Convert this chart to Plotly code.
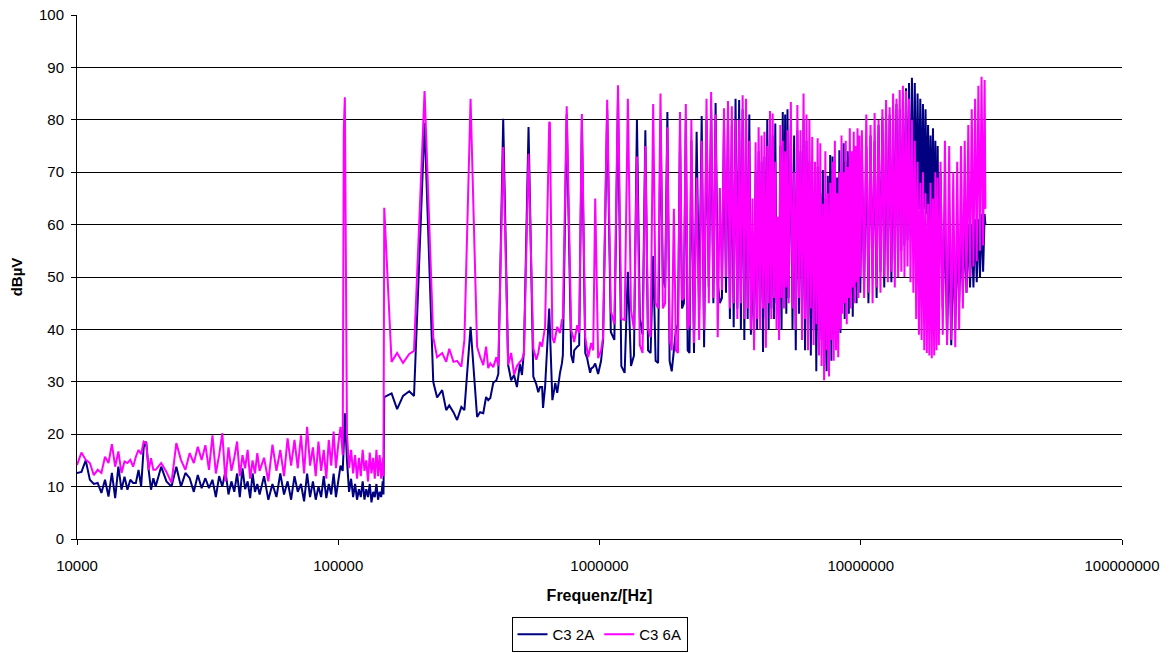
import plotly.graph_objects as go

# ---------------- data (frequencies in kHz, levels in dBµV) ----------------
# 10 kHz .. 150 kHz (noise floor + 106 kHz spike)
low_khz = [
    10, 10.4, 10.8, 11.2, 11.6, 12, 12.4, 12.8, 13.2, 13.6,
    14, 14.4, 14.8, 15.2, 15.6, 16, 16.4, 16.8, 17.2, 17.6,
    18, 18.4, 18.8, 19.2, 19.6,
    20, 21, 22, 23, 24, 25, 26, 27, 28, 29,
    30, 31, 32, 33, 34, 35, 36, 37, 38, 39,
    40, 41, 42, 43, 44, 45, 46, 47, 48, 49, 50,
    52, 54, 56, 58, 60, 62, 64, 66, 68, 70,
    72, 74, 76, 78, 80, 82, 84, 86, 88, 90,
    92, 94, 96, 98, 100, 102, 104,
    105, 106,
    108, 110, 112, 114, 116, 118, 120, 122, 124, 126,
    128, 130, 132, 134, 136, 138, 140, 142, 144, 146, 148,
    149,
]
low_6a = [
    14.1, 16.5, 15.1, 14.5, 12.2, 13.2, 12.6, 15.7, 14.5, 18.1,
    13.8, 16.7, 12.6, 14.8, 14.5, 15.1, 13.8, 15.7, 17.0, 16.2,
    18.6, 18.3, 13.2, 15.4, 13.2,
    13.2, 14.5, 12.8, 10.7, 18.3, 15.1, 13.2, 16.4, 14.5, 17.6,
    15.1, 17.9, 13.2, 19.8, 12.5, 16.0, 20.2, 11.0, 17.5, 13.0,
    15.5, 18.6, 12.0, 16.0, 13.5, 17.0, 11.5, 15.0, 12.5, 16.4, 13.0,
    15.5, 11.0, 18.0, 13.0, 17.0, 12.0, 19.2, 14.0, 18.9, 13.5,
    19.8, 12.5, 21.4, 14.0, 17.5, 12.0, 18.6, 13.0, 17.0, 11.5,
    18.9, 14.0, 20.5, 13.5, 18.0, 21.4, 16.0,
    78.0, 84.3,
    20.0, 13.5, 17.0, 12.5, 16.0, 11.5, 15.5, 12.0, 17.0, 13.0,
    15.0, 11.0, 16.5, 12.5, 15.5, 11.5, 17.0, 12.0, 16.0, 11.5, 15.5,
    12.0,
]
low_2a = [
    12.6, 12.8, 15.0, 11.3, 10.5, 10.7, 8.8, 11.3, 8.1, 12.6,
    7.8, 13.8, 9.4, 11.9, 9.4, 11.3, 10.7, 10.7, 13.2, 10.0,
    17.5, 18.6, 13.2, 9.4, 11.6,
    10.0, 13.8, 11.0, 10.0, 13.8, 10.0, 12.6, 11.6, 9.0, 12.2,
    9.7, 11.6, 9.7, 11.3, 8.0, 12.0, 10.0, 13.0, 8.5, 11.0,
    9.0, 12.5, 8.0, 13.5, 9.5, 11.0, 7.8, 12.5, 9.0, 10.5, 8.5,
    12.0, 7.5, 10.5, 8.0, 12.5, 8.5, 11.0, 7.5, 12.0, 9.0,
    10.5, 7.2, 12.5, 8.0, 11.0, 7.5, 10.0, 8.0, 12.0, 7.8,
    10.5, 8.5, 12.5, 8.0, 11.0, 14.0, 13.0,
    18.0, 24.0,
    15.0, 9.0, 11.5, 8.0, 10.5, 7.5, 9.5, 8.0, 11.0, 7.5,
    9.5, 8.0, 10.5, 7.0, 9.0, 8.0, 10.5, 7.5, 9.0, 8.0, 11.0,
    8.5,
]

# 150 kHz .. 5.3 MHz (resolved harmonics of ~107 kHz)
harm_khz = [
    150, 160, 168, 177, 187, 195, 214, 231, 239, 250,
    259, 266, 276, 285, 296, 304, 321, 340, 349, 359,
    368, 375, 382, 392, 403, 410, 428, 447, 459, 471,
    483, 496, 505, 514, 535, 558, 573, 583, 592, 603,
    608, 619, 642, 646, 660, 671, 677, 689, 706, 718,
    724, 749, 779, 793, 800, 822, 836, 856, 882, 897,
    905, 921, 929, 946, 963, 988, 1014, 1032, 1070, 1105,
    1140, 1177, 1212, 1248, 1284, 1320, 1355, 1391, 1427, 1462,
    1498, 1534, 1569, 1605, 1640, 1676, 1712, 1748, 1783, 1819,
    1855, 1890, 1926, 1962, 1997, 2033, 2069, 2104, 2140, 2175,
    2211, 2247, 2300, 2354, 2407, 2461, 2514, 2568, 2621, 2675,
    2728, 2782, 2835, 2889, 2942, 2996, 3049, 3103, 3156, 3210,
    3263, 3317, 3370, 3424, 3477, 3531, 3584, 3638, 3691, 3745,
    3798, 3852, 3905, 3959, 4012, 4066, 4119, 4173, 4226, 4280,
    4333, 4387, 4440, 4494, 4547, 4601, 4654, 4708, 4761, 4815,
    4868, 4922, 4975, 5029, 5082, 5136, 5189, 5243, 5296,
]
harm_6a = [
    63.2, 33.8, 35.5, 33.6, 35.3, 35.9, 85.5, 38.5, 34.7, 35.5,
    33.8, 36.3, 33.8, 34.0, 32.9, 38.0, 84.0, 36.7, 34.8, 33.2,
    36.7, 32.6, 33.5, 32.8, 34.7, 33.0, 74.8, 33.2, 35.5, 31.3,
    33.0, 33.8, 34.2, 35.5, 73.5, 36.4, 34.2, 35.5, 37.6, 36.7,
    38.0, 40.5, 79.6, 79.4, 38.5, 37.4, 38.5, 40.5, 39.3, 41.8,
    42.0, 82.6, 39.9, 38.5, 37.6, 40.8, 39.3, 81.1, 38.5, 36.0,
    34.7, 36.5, 37.4, 36.0, 65.0, 34.5, 36.0, 38.5, 83.8, 43.5,
    41.0, 86.6, 42.0, 41.8, 84.0, 43.7, 40.0, 73.0, 37.0, 35.5,
    75.0, 40.0, 38.5, 83.0, 45.0, 44.0, 85.0, 44.0, 45.0, 78.6,
    38.0, 36.0, 63.0, 36.0, 35.5, 81.5, 45.6, 46.0, 83.0, 40.0,
    41.0, 80.0, 37.4, 69.0, 38.0, 76.0, 40.0, 84.0, 45.0, 85.3,
    46.0, 81.0, 38.5, 67.0, 47.5, 82.2, 50.0, 83.6, 44.0, 82.6,
    45.0, 80.0, 42.0, 80.0, 45.0, 84.7, 42.0, 84.0, 44.0, 76.0,
    40.0, 65.0, 36.0, 75.7, 42.0, 78.6, 40.0, 77.0, 44.0, 77.7,
    36.5, 75.0, 45.0, 81.7, 42.0, 81.2, 46.0, 72.0, 40.0, 61.5,
    38.0, 79.0, 46.0, 76.0, 44.0, 74.0, 48.0, 78.0, 45.0,
]
harm_2a = [
    27.1, 27.8, 24.8, 27.3, 28.2, 27.3, 79.4, 30.0, 27.0, 28.4,
    24.6, 25.5, 24.2, 22.7, 25.2, 24.6, 40.5, 23.3, 24.2, 24.0,
    27.1, 26.5, 26.9, 29.8, 30.3, 31.5, 80.2, 33.2, 30.3, 31.3,
    29.0, 33.4, 31.3, 36.0, 78.6, 31.0, 29.5, 28.0, 29.0, 29.0,
    25.0, 29.0, 44.0, 40.0, 26.5, 28.5, 29.8, 27.9, 31.7, 33.5,
    35.1, 81.0, 35.1, 33.6, 36.0, 36.7, 37.0, 80.0, 35.5, 34.5,
    33.5, 31.7, 32.5, 32.8, 33.5, 31.5, 34.0, 38.0, 82.0, 39.5,
    38.0, 84.0, 33.0, 31.7, 51.0, 33.0, 35.0, 80.0, 42.0, 39.0,
    78.0, 36.0, 35.5, 54.0, 34.0, 33.6, 80.0, 50.0, 48.0, 81.5,
    34.0, 32.0, 36.0, 40.0, 41.0, 78.0, 44.0, 45.0, 80.0, 36.0,
    35.5, 76.0, 35.5, 77.7, 43.7, 80.7, 36.6, 80.0, 48.0, 82.0,
    45.0, 83.2, 49.0, 45.0, 46.0, 79.0, 47.0, 80.0, 42.0, 79.0,
    40.4, 84.0, 44.0, 83.8, 40.0, 82.0, 38.0, 80.0, 42.0, 81.0,
    39.0, 55.0, 38.0, 70.0, 40.0, 74.0, 45.0, 72.0, 35.7, 73.0,
    42.0, 80.0, 40.0, 78.0, 44.0, 77.0, 42.0, 79.3, 45.0, 58.0,
    42.0, 75.0, 40.0, 81.5, 47.0, 81.0, 43.0, 82.0, 46.0,
]

# 5.4 MHz .. 30 MHz (unresolved dense harmonic band)
dense_khz = [
    5400, 5480, 5560, 5640, 5720, 5800, 5880, 5960, 6040, 6120,
    6200, 6280, 6360, 6440, 6520, 6600, 6680, 6760, 6840, 6920,
    7000, 7080, 7160, 7240, 7320, 7400, 7480, 7560, 7640, 7720,
    7800, 7880, 7960, 8040, 8120, 8200, 8280, 8360, 8440, 8520,
    8600, 8680, 8760, 8840, 8920, 9000, 9080, 9160, 9240, 9320,
    9400, 9480, 9560, 9640, 9720, 9800, 9880, 9960,
    10100, 10300, 10500, 10700, 10900, 11100, 11300, 11500, 11700, 11900,
    12100, 12300, 12500, 12700, 12900, 13100, 13300, 13500, 13700, 13900,
    14100, 14300, 14500, 14700, 14900, 15100, 15300, 15500, 15700, 15900,
    16100, 16300, 16500, 16700, 16900, 17100, 17300, 17500, 17700, 17900,
    18100, 18300, 18500, 18700, 18900, 19100, 19300, 19500, 19700, 19900,
    20200, 20600, 21000, 21400, 21800, 22200, 22600, 23000, 23400, 23800,
    24200, 24600, 25000, 25400, 25800, 26200, 26600, 27000, 27400, 27800,
    28200, 28600, 29000, 29400, 29800, 30000,
]
dense_6a = [
    83.4, 44, 70, 40, 82.8, 46, 78, 38, 85, 42,
    81, 36, 80, 44, 76.7, 37, 72, 41, 76.5, 35,
    75.5, 33, 64, 30.3, 74, 36, 66, 31, 68, 38,
    72, 34, 76, 36, 66, 34.7, 70, 40, 77, 43,
    70, 45, 76, 41, 71, 46, 78.4, 44, 74, 48,
    77.7, 45, 75, 49, 78.4, 46, 77, 50,
    78, 46, 81, 47, 79, 45, 81.3, 48, 80, 47,
    82, 50, 83.8, 49, 82.4, 51, 85, 48, 84, 50,
    85.7, 51, 86.5, 50, 85.5, 52, 84, 49, 80, 47,
    76, 42, 72, 39, 68, 38, 70, 36, 66, 35.5,
    64, 35, 68, 34.5, 65, 35, 70, 36, 69, 37,
    72, 39, 76, 37, 75, 38, 70, 36.6, 72, 40,
    75, 44, 76, 47, 79, 50, 82, 52, 84, 53,
    86.5, 55, 88.2, 56, 87.6, 63,
]
dense_2a = [
    79, 40, 77, 36, 78, 43, 74, 41, 80, 36,
    76, 39, 72, 35, 70, 40, 68, 32, 71, 36,
    66, 38, 70.4, 33, 65, 32, 69.3, 37, 73.3, 34,
    73, 39, 68, 37, 69, 40, 74.2, 39.3, 70, 45,
    75.5, 42, 72, 46, 74, 43, 73, 47, 70, 42.4,
    72, 48, 73, 45, 74, 50, 72, 47,
    74, 48, 75, 45, 77, 50, 76, 46, 79, 51,
    80.5, 48, 80, 52, 81, 49, 82, 53, 83, 52,
    82, 55, 84, 56, 86, 57, 87, 58, 88, 60,
    87, 62, 85, 63, 84, 62, 83, 63, 82, 62,
    79, 60, 77, 58, 78.4, 55, 76, 50, 75, 45,
    70, 44, 62, 38, 58, 37, 56, 40, 57, 45,
    58, 47, 59, 47, 60, 48, 60, 48, 61, 49,
    61, 50, 62, 51, 62, 60,
]

series_names = ["C3 2A", "C3 6A"]
series_colors = ["#000080", "#FF00FF"]
x_tickvals = [1e4, 1e5, 1e6, 1e7, 1e8]
x_ticktext = ["10000", "100000", "1000000", "10000000", "100000000"]

# ---------------- assemble ----------------
freq_hz = [f * 1000 for f in (low_khz + harm_khz + dense_khz)]
lvl_2a = low_2a + harm_2a + dense_2a
lvl_6a = low_6a + harm_6a + dense_6a

FONT = "Liberation Sans, Arial, sans-serif"

fig = go.Figure()
for name, col, lv in zip(series_names, series_colors, [lvl_2a, lvl_6a]):
    fig.add_trace(go.Scatter(
        x=freq_hz, y=lv, mode="lines", name=name,
        line=dict(color=col, width=2, simplify=False),
    ))

fig.update_layout(
    width=1171, height=653,
    margin=dict(l=77, r=49, t=15, b=114, autoexpand=False),
    paper_bgcolor="white", plot_bgcolor="white",
    font=dict(family=FONT, color="black", size=15),
    showlegend=True,
    legend=dict(
        orientation="h", x=0.5, xanchor="center",
        y=-0.149, yanchor="top",
        bordercolor="black", borderwidth=1, bgcolor="white",
        font=dict(family=FONT, size=15, color="black"),
        itemwidth=30, tracegroupgap=0,
    ),
    xaxis=dict(
        type="log", range=[4, 8],
        tickvals=x_tickvals, ticktext=x_ticktext,
        ticks="outside", ticklen=5, tickcolor="black", tickwidth=1,
        showline=True, linecolor="black", linewidth=1,
        showgrid=False, zeroline=False, automargin=False,
        tickfont=dict(family=FONT, size=15, color="black"),
        ticklabelstandoff=8,
        title=dict(text="<b>Frequenz/[Hz]</b>", standoff=16,
                   font=dict(family=FONT, size=16, color="black")),
    ),
    yaxis=dict(
        range=[0, 100], dtick=10, tick0=0,
        ticks="outside", ticklen=5, tickcolor="black", tickwidth=1,
        showline=True, linecolor="black", linewidth=1,
        showgrid=True, gridcolor="black", gridwidth=1,
        zeroline=False, automargin=False,
        tickfont=dict(family=FONT, size=15, color="black"),
        ticklabelstandoff=4,
        title=dict(text="<b>dBµV</b>", standoff=12,
                   font=dict(family=FONT, size=15, color="black")),
    ),
)

fig.write_html("out.html")
